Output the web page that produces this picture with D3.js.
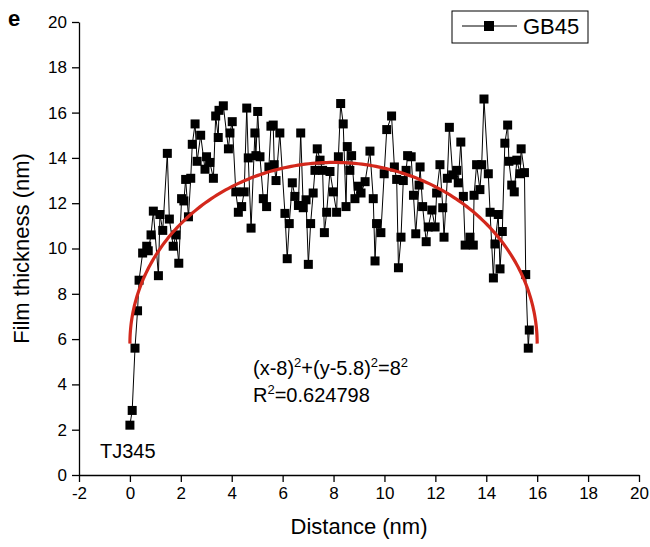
<!DOCTYPE html>
<html>
<head>
<meta charset="utf-8">
<script src="https://cdn.jsdelivr.net/npm/d3@7"></script>
<style>
  body { margin: 0; background: #fff; }
  svg { font-family: "Liberation Sans", Arial, sans-serif; }
  .axis text { font-size: 17px; fill: #000; }
  .axis path, .axis line { stroke: #000; stroke-width: 1.3px; }
</style>
</head>
<body>
<svg id="chart" width="650" height="547"></svg>
<script>
  'use strict';

  // GB45 thickness profile
  var distance = [0.00, 0.09, 0.20, 0.30, 0.36, 0.50, 0.66, 0.72, 0.83, 0.92, 1.12, 1.18, 1.29, 1.47, 1.55, 1.70, 1.81, 1.92,
    2.03, 2.12, 2.19, 2.30, 2.39, 2.45, 2.56, 2.64, 2.78, 2.95, 3.01, 3.14, 3.28, 3.37, 3.47, 3.50, 3.67, 3.87, 3.93,
    4.02, 4.16, 4.26, 4.39, 4.49, 4.59, 4.65, 4.76, 4.91, 4.95, 5.02, 5.11, 5.24, 5.37, 5.46, 5.54, 5.63, 5.67, 5.74,
    5.89, 6.09, 6.18, 6.26, 6.38, 6.48, 6.62, 6.71, 6.81, 6.92, 7.01, 7.10, 7.20, 7.27, 7.36, 7.47, 7.57, 7.64, 7.73,
    7.86, 7.99, 8.12, 8.19, 8.28, 8.38, 8.49, 8.54, 8.64, 8.71, 8.84, 8.97, 9.08, 9.24, 9.43, 9.56, 9.63, 9.69, 9.86,
    9.99, 10.09, 10.28, 10.39, 10.48, 10.55, 10.65, 10.74, 10.85, 10.91, 11.05, 11.14, 11.23, 11.36, 11.40, 11.50,
    11.64, 11.72, 11.86, 11.99, 12.05, 12.18, 12.29, 12.34, 12.47, 12.55, 12.68, 12.84, 12.90, 13.00, 13.10, 13.17,
    13.36, 13.49, 13.52, 13.62, 13.75, 13.82, 13.91, 14.08, 14.15, 14.28, 14.34, 14.47, 14.54, 14.63, 14.73, 14.84,
    14.89, 15.00, 15.10, 15.20, 15.33, 15.37, 15.50, 15.55, 15.65, 15.69];
  var thickness = [2.2, 2.85, 5.6, 7.25, 8.6, 9.8, 10.1, 9.9, 10.6, 11.65, 8.8, 11.5, 10.8, 14.2, 11.3, 10.1, 10.6, 9.35,
    12.2, 12.1, 13.05, 11.4, 13.1, 14.6, 15.5, 13.85, 15.0, 13.5, 14.05, 13.8, 13.1, 15.85, 14.9, 16.1, 16.3, 14.4, 15.1,
    15.6, 12.5, 11.6, 11.85, 12.5, 16.2, 14.0, 10.9, 15.1, 14.1, 16.05, 14.05, 12.2, 11.85, 13.6, 15.4, 15.45, 13.7, 13.0,
    15.1, 11.55, 9.55, 11.1, 12.9, 12.3, 11.9, 15.1, 11.8, 12.15, 9.3, 11.1, 12.45, 13.45, 14.4, 13.9, 13.45, 10.7, 11.6,
    13.4, 12.5, 11.6, 14.05, 16.4, 15.5, 11.85, 14.5, 13.45, 14.1, 12.2, 12.75, 12.45, 12.95, 14.3, 12.2, 9.45, 11.1, 10.7,
    13.3, 15.25, 15.85, 13.6, 13.05, 9.15, 10.5, 13.0, 13.45, 14.1, 14.05, 12.35, 10.65, 12.8, 13.6, 11.85,
    10.3, 10.95, 11.7, 10.95, 12.45, 13.7, 11.8, 10.5, 13.1, 15.35, 13.25, 13.45, 12.9, 14.7, 12.3, 10.15,
    10.5, 10.15, 12.35, 13.7, 12.6, 13.7, 16.6, 13.3, 11.6, 8.7, 10.2, 11.5, 9.1, 10.75, 14.65, 15.45,
    13.85, 12.8, 12.5, 13.9, 13.3, 14.4, 13.35, 8.85, 5.6, 6.4];

  // circle fit (x-8)^2+(y-5.8)^2=8^2
  var fitCenterX = 8;
  var fitCenterY = 5.8;
  var fitRadius = 8;

  var xTicks = d3.range(-2, 21, 2);
  var xMinorTicks = d3.range(-2, 21, 1);
  var yTicks = d3.range(0, 21, 2);
  var yMinorTicks = d3.range(0, 21, 1);

  var $svg = d3.select('#chart');
  var xScale = d3.scaleLinear().domain([-2, 20]).range([79, 639]);
  var yScale = d3.scaleLinear().domain([0, 20]).range([475, 22]);

  function plainLabel(d) {
    return String(d);
  }

  // axes
  var gx = $svg.append('g').attr('class', 'axis').attr('transform', 'translate(0,' + yScale(0) + ')');
  gx.call(d3.axisBottom(xScale).tickValues(xMinorTicks).tickSize(4).tickFormat(''));
  gx.call(d3.axisBottom(xScale).tickValues(xTicks).tickSize(7).tickSizeOuter(0).tickPadding(5).tickFormat(plainLabel));

  var gy = $svg.append('g').attr('class', 'axis').attr('transform', 'translate(' + xScale(-2) + ',0)');
  gy.call(d3.axisLeft(yScale).tickValues(yMinorTicks).tickSize(4).tickFormat(''));
  gy.call(d3.axisLeft(yScale).tickValues(yTicks).tickSize(7).tickSizeOuter(0).tickPadding(5).tickFormat(plainLabel));

  // data line and markers
  var points = distance.map(function(d, i) {
    return { x: d, y: thickness[i] };
  });

  var line = d3.line()
    .x(function(d) { return xScale(d.x); })
    .y(function(d) { return yScale(d.y); });

  $svg.append('path')
    .datum(points)
    .attr('d', line)
    .attr('fill', 'none')
    .attr('stroke', '#000')
    .attr('stroke-width', 1);

  $svg.selectAll('rect.pt')
    .data(points)
    .enter()
    .append('rect')
    .attr('class', 'pt')
    .attr('x', function(d) { return xScale(d.x) - 4.5; })
    .attr('y', function(d) { return yScale(d.y) - 4.5; })
    .attr('width', 9)
    .attr('height', 9)
    .attr('fill', '#000');

  // fitted arc
  var fitPoints = d3.range(0, 180.5, 1).map(function(a) {
    var t = Math.PI - a * Math.PI / 180;
    return { x: fitCenterX + fitRadius * Math.cos(t), y: fitCenterY + fitRadius * Math.sin(t) };
  });
  $svg.append('path')
    .datum(fitPoints)
    .attr('d', line)
    .attr('fill', 'none')
    .attr('stroke', '#d3281c')
    .attr('stroke-width', 3.2);

  // labels
  $svg.append('text')
    .attr('x', xScale(9))
    .attr('y', 534)
    .attr('text-anchor', 'middle')
    .style('font-size', '22px')
    .text('Distance (nm)');

  $svg.append('text')
    .attr('transform', 'translate(29,' + yScale(10) + ') rotate(-90)')
    .attr('text-anchor', 'middle')
    .style('font-size', '22px')
    .text('Film thickness (nm)');

  $svg.append('text')
    .attr('x', 8)
    .attr('y', 26)
    .style('font-size', '22px')
    .style('font-weight', 'bold')
    .text('e');

  var eq = $svg.append('text')
    .attr('x', 253)
    .attr('y', 375)
    .style('font-size', '20px');
  eq.append('tspan').text('(x-8)');
  eq.append('tspan').attr('dy', -8).style('font-size', '13px').text('2');
  eq.append('tspan').attr('dy', 8).text('+(y-5.8)');
  eq.append('tspan').attr('dy', -8).style('font-size', '13px').text('2');
  eq.append('tspan').attr('dy', 8).text('=8');
  eq.append('tspan').attr('dy', -8).style('font-size', '13px').text('2');

  var r2 = $svg.append('text')
    .attr('x', 253)
    .attr('y', 402)
    .style('font-size', '20px');
  r2.append('tspan').text('R');
  r2.append('tspan').attr('dy', -8).style('font-size', '13px').text('2');
  r2.append('tspan').attr('dy', 8).text('=0.624798');

  $svg.append('text')
    .attr('x', 100)
    .attr('y', 458)
    .style('font-size', '20px')
    .text('TJ345');

  // legend
  var legend = $svg.append('g');
  legend.append('rect')
    .attr('x', 452).attr('y', 11).attr('width', 136).attr('height', 32)
    .attr('fill', '#fff').attr('stroke', '#000').attr('stroke-width', 1);
  legend.append('line')
    .attr('x1', 462).attr('x2', 517).attr('y1', 26).attr('y2', 26)
    .attr('stroke', '#000').attr('stroke-width', 1);
  legend.append('rect')
    .attr('x', 484).attr('y', 21).attr('width', 10).attr('height', 10)
    .attr('fill', '#000');
  legend.append('text')
    .attr('x', 523).attr('y', 34)
    .style('font-size', '22px')
    .text('GB45');
</script>
</body>
</html>
